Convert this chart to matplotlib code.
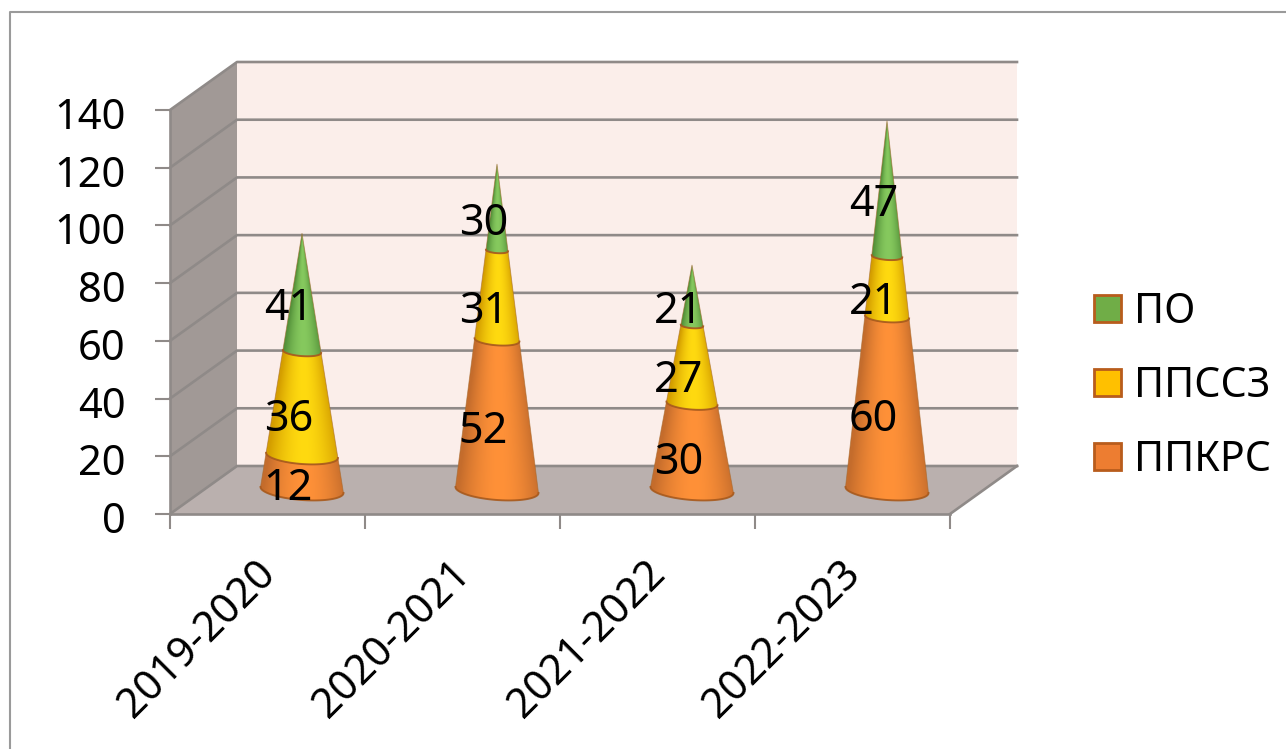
import numpy as np
import matplotlib
matplotlib.use('Agg')
import matplotlib.pyplot as plt
from matplotlib.patches import Polygon, Patch
from matplotlib.lines import Line2D
from matplotlib.transforms import ScaledTranslation

plt.rcParams['font.family'] = ['Noto Sans', 'DejaVu Sans']

# data
years = ['2019-2020', '2020-2021', '2021-2022', '2022-2023']
ppkrs = [12, 52, 30, 60]
ppssz = [36, 31, 27, 21]
po = [41, 30, 21, 47]
series_names = ['ППКРС', 'ППССЗ', 'ПО']
y_ticks = [0, 20, 40, 60, 80, 100, 120, 140]

W, H = 1286, 749
GRID = '#8f8a88'
BROWN = '#b85c1c'
# edge colour, centre colour of each series
shades = [('#c46c2c', '#ff9138'), ('#d49e00', '#ffda10'), ('#54913a', '#86c95e')]
flat = ['#ed7d31', '#ffc000', '#70ad47']

fig = plt.figure(figsize=(W / 100, H / 100), dpi=100)
ax = fig.add_axes([170 / W, 1 - 514 / H, 780 / W, 404 / H])
ax.set_facecolor('none')

# depth of the box in data units (back wall is 67px right, 48px up)
DX = 67 / 195
DY = 48 / (404 / 140)
top = y_ticks[-1]
n = len(years)


def proj(x, v, d):
    return x + d * DX, v + d * DY


def box():
    back = [proj(0, 0, 1), proj(n, 0, 1), proj(n, top, 1), proj(0, top, 1)]
    side = [proj(0, 0, 0), proj(0, 0, 1), proj(0, top, 1), proj(0, top, 0)]
    floor = [proj(0, 0, 0), proj(n, 0, 0), proj(n, 0, 1), proj(0, 0, 1)]
    ax.add_patch(Polygon(back, fc='#fbeeea', ec='none', clip_on=False, zorder=1))
    ax.add_patch(Polygon(side, fc='#a19996', ec='none', clip_on=False, zorder=1))
    ax.add_patch(Polygon(floor, fc='#bab0ae', ec='none', clip_on=False, zorder=1))
    for t in y_ticks:
        xs, ys = zip(proj(0, t, 0), proj(0, t, 1), proj(n, t, 1))
        ax.plot(xs, ys, color=GRID, lw=1.9, clip_on=False, zorder=2)
    xs, ys = zip(proj(n, 0, 0), proj(n, 0, 1))
    ax.plot(xs, ys, color=GRID, lw=1.9, clip_on=False, zorder=2)


def cone_segment(cx, total, v0, v1, cols, z):
    R = 41.5 / 195
    minor = 10 / (404 / 140)
    tilt = 3 / (404 / 140)
    cx, base = proj(cx, 0, 0.5)
    cx += 1 / 195

    def arc(v):
        k = 1 - v / total
        a = np.linspace(np.pi, 2 * np.pi, 40)
        return cx + R * k * np.cos(a), base + v + k * (minor * np.sin(a) - tilt * np.cos(a))

    x0, y0 = arc(v0)
    x1, y1 = arc(v1)
    pts = np.r_[np.c_[x0, y0], np.c_[x1[::-1], y1[::-1]]]
    ax.add_patch(Polygon(pts, fc='none', ec='#a5682c', lw=0.6, alpha=0.6, clip_on=False, zorder=z + 0.2))

    # horizontal shading, follows the cone width
    vs = np.linspace(base + v0 - minor - tilt, base + v1 + tilt, 60)
    xs = np.linspace(cx - R * 1.02, cx + R * 1.02, 160)
    gx, gv = np.meshgrid(xs, vs)
    k = np.clip(1 - (gv - base) / total, 0.004, 1)
    u = (gx - cx) / (R * k)
    t = np.clip(1 - np.abs(u - 0.05) ** 1.8, 0, 1)[..., None]
    e = np.array(matplotlib.colors.to_rgb(cols[0]))
    c = np.array(matplotlib.colors.to_rgb(cols[1]))
    im = ax.imshow(e + (c - e) * t, extent=(xs[0], xs[-1], vs[0], vs[-1]), origin='lower',
                   aspect='auto', interpolation='bilinear', zorder=z)
    im.set_clip_path(Polygon(pts, transform=ax.transData))
    # rim on the lower edge
    ax.plot(x0, y0, color='#a8591c', lw=1.4, alpha=0.85, clip_on=False, zorder=z + 0.3)


box()
stack = [ppkrs, ppssz, po]
for i in range(n):
    total = sum(s[i] for s in stack)
    low = 0
    for j, s in enumerate(stack):
        cone_segment(i + 0.5, total, low, low + s[i], shades[j], 3 + j)
        low += s[i]

# value labels
for i in range(n):
    low = 0
    for s in stack:
        ax.text(i + 0.5 + 0.31 * DX, low + s[i] / 2 + 0.23 * DY - 1.3, str(s[i]), fontsize=31,
                ha='center', va='center', color='black', zorder=10, clip_on=False)
        low += s[i]

ax.set_xlim(0, n)
ax.set_ylim(0, top)
for sp in ['top', 'right']:
    ax.spines[sp].set_visible(False)
for sp in ['left', 'bottom']:
    ax.spines[sp].set_color(GRID)
    ax.spines[sp].set_linewidth(1.9)
    ax.spines[sp].set_zorder(2.5)
ax.set_yticks(y_ticks)
ax.tick_params(axis='y', labelsize=30, length=11, width=1.5, color=GRID, pad=21)
ax.set_xticks(range(n + 1))
ax.set_xticklabels([])
ax.tick_params(axis='x', which='major', length=11, width=1.5, color=GRID)
ax.set_xticks(np.arange(n) + 0.5, minor=True)
ax.set_xticklabels(years, minor=True, rotation=45, ha='right', rotation_mode='anchor', fontsize=30)
ax.tick_params(axis='x', which='minor', length=0, pad=28)

for lab in ax.get_yticklabels():
    lab.set_transform(lab.get_transform() + ScaledTranslation(0, -3 / 100, fig.dpi_scale_trans))
for lab in ax.get_xticklabels(minor=True):
    lab.set_transform(lab.get_transform() + ScaledTranslation(-13 / 100, 0, fig.dpi_scale_trans))

handles = [Patch(fc=flat[j], ec=BROWN, lw=2, label=series_names[j]) for j in [2, 1, 0]]
fig.legend(handles=handles, loc='center left', bbox_to_anchor=(1057 / W, 1 - 386 / H), frameon=False,
           fontsize=29.5, handlelength=0.66, handleheight=0.66, handletextpad=0.32, labelspacing=0.78)

# outer frame of the chart area
fig.add_artist(Line2D([10 / W, 10 / W, 1], [0, 1 - 12 / H, 1 - 12 / H], color='#9a9a9a', lw=1.5))

fig.savefig('out.png', dpi=100)
